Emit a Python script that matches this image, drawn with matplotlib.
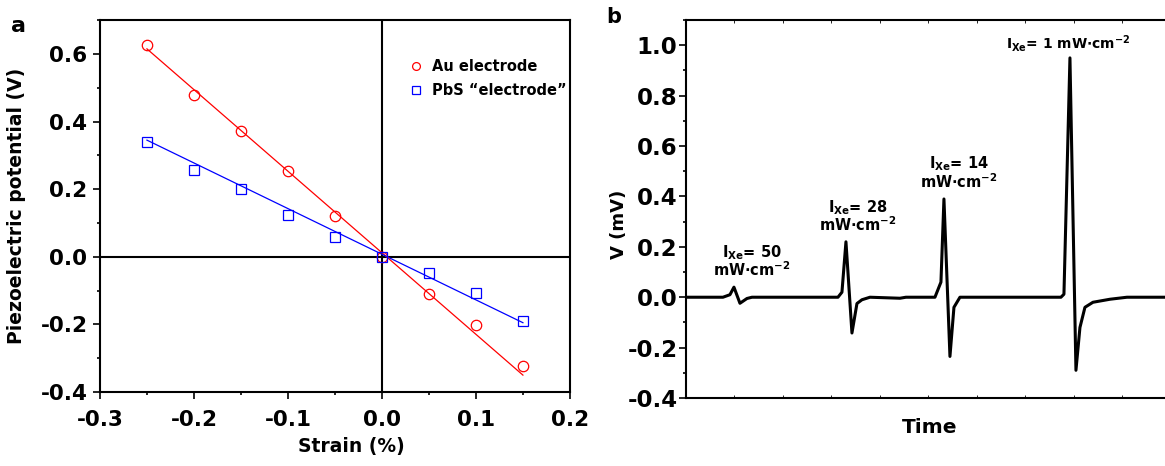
import matplotlib
matplotlib.use('Agg')
import matplotlib.pyplot as plt
from matplotlib.ticker import MultipleLocator

plt.rcParams['font.family'] = 'DejaVu Sans'
plt.rcParams['font.weight'] = 'bold'
plt.rcParams['axes.unicode_minus'] = False
plt.rcParams['mathtext.default'] = 'bf'

# panel a: piezo potential vs strain
strain = [-0.25, -0.2, -0.15, -0.1, -0.05, 0.0, 0.05, 0.1, 0.15]
au_pot = [0.625, 0.478, 0.372, 0.255, 0.122, 0.0, -0.110, -0.202, -0.322]
pbs_pot = [0.340, 0.258, 0.200, 0.123, 0.058, 0.0, -0.048, -0.107, -0.190]
fit_x = [-0.25, 0.15]
au_fit = [0.615, -0.350]
pbs_fit = [0.345, -0.195]

# panel b: voltage trace (arbitrary time units)
t = [0, 37, 44, 48, 54, 61, 66, 100,
     152, 156, 160, 166, 171, 176, 184, 214, 220,
     249, 255, 258, 264, 268, 274, 320,
     375, 378, 384, 390, 394, 399, 407, 424, 441, 485]
v = [0, 0, 0.01, 0.04, -0.024, -0.005, 0, 0,
     0, 0.02, 0.22, -0.142, -0.025, -0.01, 0, -0.004, 0,
     0, 0.06, 0.39, -0.235, -0.04, 0, 0,
     0, 0.012, 0.95, -0.29, -0.12, -0.04, -0.02, -0.008, 0, 0]
label_t = [66, 172, 273]
label_top = ['50', '28', '14']
label_y1 = [0.158, 0.336, 0.51]
label_y2 = [0.083, 0.261, 0.435]

fig = plt.figure(figsize=(11.65, 4.66), dpi=100)

# ---- panel a ----
ax1 = fig.add_axes([0.0858, 0.1588, 0.4034, 0.798])
ax1.axhline(0, color='black', lw=1.5, zorder=1)
ax1.axvline(0, color='black', lw=1.5, zorder=1)
ax1.plot(fit_x, au_fit, color='red', lw=0.9, zorder=2)
ax1.plot(fit_x, pbs_fit, color='blue', lw=0.9, zorder=2)
ax1.plot(strain, au_pot, 'o', mfc='none', mec='red', ms=7.5, mew=0.9,
         label='Au electrode', zorder=3)
ax1.plot(strain, pbs_pot, 's', mfc='none', mec='blue', ms=7, mew=0.9,
         label='PbS \u201celectrode\u201d', zorder=3)
ax1.set_xlim(-0.3, 0.2)
ax1.set_ylim(-0.4, 0.7)
ax1.xaxis.set_major_locator(MultipleLocator(0.1))
ax1.xaxis.set_minor_locator(MultipleLocator(0.05))
ax1.yaxis.set_major_locator(MultipleLocator(0.2))
ax1.yaxis.set_minor_locator(MultipleLocator(0.1))
ax1.tick_params(which='major', direction='out', length=5, width=1.2,
                labelsize=15.5, pad=4)
ax1.tick_params(which='minor', direction='out', length=2.5, width=1.2)
ax1.tick_params(axis='x', pad=8)
for s in ax1.spines.values():
    s.set_linewidth(1.5)
ax1.set_xlabel('Strain (%)', fontsize=13.5, fontweight='bold')
ax1.set_ylabel('Piezoelectric potential (V)', fontsize=13.5, fontweight='bold')
ax1.xaxis.set_label_coords(0.536, -0.121)
ax1.yaxis.set_label_coords(-0.157, 0.5)
ax1.legend(loc='upper left', bbox_to_anchor=(0.63, 0.93), frameon=False,
           fontsize=10.5, handlelength=1.0, handletextpad=0.6,
           markerscale=0.75, labelspacing=0.6)
fig.text(0.0155, 0.944, 'a', fontsize=16, fontweight='bold',
         ha='center', va='center')

# ---- panel b ----
ax2 = fig.add_axes([0.5888, 0.1459, 0.4163, 0.811])
ax2.plot(t, v, color='black', lw=2.2)
ax2.set_xlim(0, 485)
ax2.set_ylim(-0.4, 1.1)
ax2.yaxis.set_major_locator(MultipleLocator(0.2))
ax2.yaxis.set_minor_locator(MultipleLocator(0.1))
ax2.xaxis.set_major_locator(MultipleLocator(48.5))
ax2.xaxis.set_major_formatter(plt.NullFormatter())
ax2.tick_params(axis='y', which='major', direction='out', length=5,
                width=1.2, labelsize=16.5, pad=1)
ax2.tick_params(axis='y', which='minor', direction='out', length=2.5, width=1.2)
ax2.tick_params(axis='x', which='major', direction='in', length=2,
                width=0.6, top=True, bottom=True)
for s in ax2.spines.values():
    s.set_linewidth(1.5)
ax2.set_xlabel('Time', fontsize=14.5, fontweight='bold')
ax2.set_ylabel('V (mV)', fontsize=13, fontweight='bold')
ax2.xaxis.set_label_coords(0.503, -0.053)
ax2.yaxis.set_label_coords(-0.12, 0.46)
for lt, lab, y1, y2 in zip(label_t, label_top, label_y1, label_y2):
    ax2.text(lt, y1, r'$I_{Xe}$= ' + lab, fontsize=10.5, ha='center',
             va='baseline')
    ax2.text(lt, y2, r'mW$\cdot$cm$^{-2}$', fontsize=10.5, ha='center',
             va='baseline')
ax2.text(382, 0.988, r'$I_{Xe}$= 1 mW$\cdot$cm$^{-2}$', fontsize=10,
         ha='center', va='baseline')
fig.text(0.527, 0.963, 'b', fontsize=15, fontweight='bold',
         ha='center', va='center')

fig.savefig('out.png', dpi=100)
